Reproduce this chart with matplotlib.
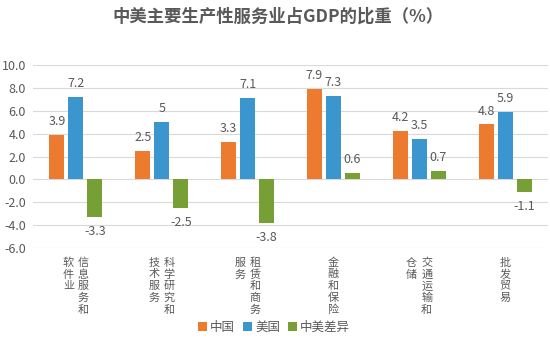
import matplotlib
matplotlib.use("Agg")
import matplotlib.pyplot as plt
import numpy as np

plt.rcParams['font.family'] = ['Noto Sans CJK SC', 'DejaVu Sans']

categories = ["信息服务和\n软件业", "科学研究和\n技术服务", "租赁和商务\n服务", "金融和保险", "交通运输和\n仓储", "批发贸易"]
china = [3.9, 2.5, 3.3, 7.9, 4.2, 4.8]
usa = [7.2, 5.0, 7.1, 7.3, 3.5, 5.9]
diff = [-3.3, -2.5, -3.8, 0.6, 0.7, -1.1]
diff_labels = ["-3.3", "-2.5", "-3.8", "0.6", "0.7", "-1.1"]
china_labels = ["3.9", "2.5", "3.3", "7.9", "4.2", "4.8"]
usa_labels = ["7.2", "5", "7.1", "7.3", "3.5", "5.9"]
series_names = ["中国", "美国", "中美差异"]
yticks = [-6, -4, -2, 0, 2, 4, 6, 8, 10]

colors = ["#EC7A2F", "#3B96D0", "#76A036"]
text_gray = "#595959"

fig = plt.figure(figsize=(5.5, 3.51), dpi=100)
ax = fig.add_axes([33/550, 1-248/351, 515/550, (248-65)/351])

x = np.arange(len(categories))
step = 0.222
width = 0.175
series = [(china, china_labels), (usa, usa_labels), (diff, diff_labels)]
for k, ((vals, labs), name, c) in enumerate(zip(series, series_names, colors)):
    pos = x + (k - 1) * step
    ax.bar(pos, vals, width=width, color=c, label=name, zorder=3)
    for p, v, lab in zip(pos, vals, labs):
        if v >= 0:
            ax.annotate(lab, (p, v), xytext=(0, 5), textcoords='offset points',
                        ha='center', va='bottom', fontsize=9, color=text_gray)
        else:
            ax.annotate(lab, (p, v), xytext=(0, -6), textcoords='offset points',
                        ha='center', va='top', fontsize=9, color=text_gray)

ax.set_xlim(-0.5, len(categories) - 0.5)
ax.set_ylim(-6, 10)
ax.set_yticks(yticks)
ax.set_yticklabels([f"{t:.1f}" for t in yticks], fontsize=9, color=text_gray)
ax.tick_params(axis='y', length=0, pad=5)
ax.set_xticks([])
ax.grid(axis='y', color="#D9D9D9", linewidth=0.8, zorder=0)
for s in ax.spines.values():
    s.set_visible(False)

# vertical category labels; first line is the right-most column
col_gap_pt = 15 * 72 / 100
char_step_pt = 11.7 * 72 / 100
for i, cat in enumerate(categories):
    lines = cat.split("\n")
    n = len(lines)
    for j, line in enumerate(lines):
        dx = ((n - 1) / 2 - j) * col_gap_pt
        for m, ch in enumerate(line):
            ax.annotate(ch, (i, 0), xycoords=ax.get_xaxis_transform(),
                        xytext=(dx, -7 - m * char_step_pt), textcoords='offset points',
                        ha='center', va='top', fontsize=8, color=text_gray)

fig.text(278/550, 1-17/351, "中美主要生产性服务业占GDP的比重（%）", ha='center', va='center',
         fontsize=12.5, fontweight='bold', color=text_gray)

fig.legend(loc='center', bbox_to_anchor=(274/550, 1-327/351), ncol=3, frameon=False,
           fontsize=9, labelcolor=text_gray, handlelength=0.7, handleheight=0.7,
           handletextpad=0.3, columnspacing=0.6)

fig.savefig("out.png", dpi=100)
